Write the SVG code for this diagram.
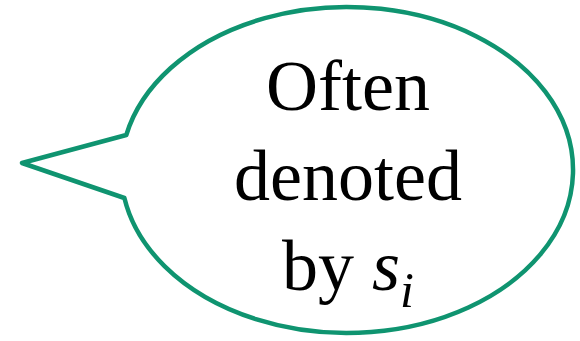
<svg xmlns="http://www.w3.org/2000/svg" width="580" height="341" viewBox="0 0 580 341">
  <style>
    .bubble { fill: #ffffff; stroke: #0f9470; stroke-width: 4.5; stroke-linejoin: round; }
    .label { font-family: "Liberation Serif", "Times New Roman", serif; font-size: 72px; fill: #000000; text-anchor: middle; }
  </style>
  <rect width="580" height="341" fill="#ffffff"/>
  <g id="callout">
    <path class="bubble" d="M126.3,135 L22,163 L124.4,198 A226,163 0 1 0 126.3,135 Z"/>
    <text class="label" x="348" y="110">Often</text>
    <text class="label" x="348" y="200">denoted</text>
    <text class="label" x="348" y="290">by <tspan font-style="italic">s</tspan><tspan font-style="italic" font-size="50" dy="17">i</tspan></text>
  </g>
</svg>
